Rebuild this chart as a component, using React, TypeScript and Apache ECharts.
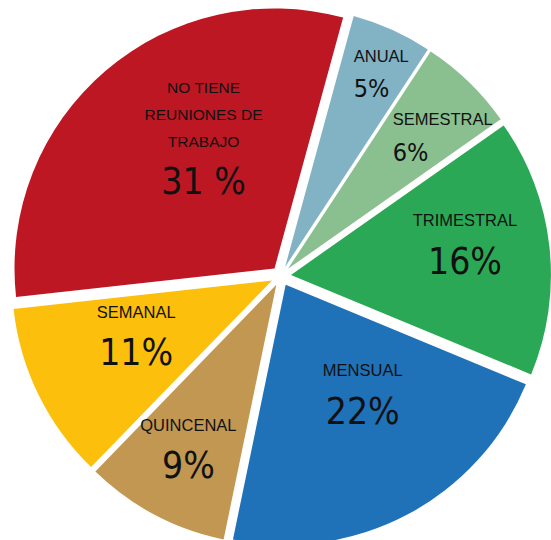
import React, { useEffect, useRef } from "react";
import * as echarts from "echarts";

const categories = [
  "ANUAL",
  "SEMESTRAL",
  "TRIMESTRAL",
  "MENSUAL",
  "QUINCENAL",
  "SEMANAL",
  "NO TIENE REUNIONES DE TRABAJO",
];
const values = [5, 6, 16, 22, 9, 11, 31];
const nameLines = [
  ["ANUAL"],
  ["SEMESTRAL"],
  ["TRIMESTRAL"],
  ["MENSUAL"],
  ["QUINCENAL"],
  ["SEMANAL"],
  ["NO TIENE", "REUNIONES DE", "TRABAJO"],
];
const valueLabels = ["5%", "6%", "16%", "22%", "9%", "11%", "31 %"];

// styling / layout (not data)
const colors = ["#82B3C4", "#8ABF8F", "#2AA855", "#1F71B8", "#C19751", "#FBBF0C", "#BC1723"];
const labelKind = ["s", "s", "b", "b", "b", "b", "r"];
const labelRadius = [0.862, 0.812, 0.709, 0.531, 0.73, 0.586, 0.586];
const labelAngleShift = [1.9, 4.9, -4.6, -7.5, 0.8, 4.9, 10.6];

const CX = 281;
const CY = 276;
const R = 260;
const START_CLOCK = 15.3; // degrees clockwise from 12 o'clock

const NAME_FONT = "'Liberation Sans', Arial, sans-serif";
const NUM_FONT = "'Liberation Sans Narrow', 'DejaVu Sans Condensed', 'Roboto Condensed', sans-serif";

const rich = {
  ns: { fontFamily: NAME_FONT, fontSize: 16.5, lineHeight: 33, align: "left", color: "#111" },
  vs: { fontFamily: NUM_FONT, fontSize: 25, lineHeight: 33, align: "left", color: "#111" },
  nb: { fontFamily: NAME_FONT, fontSize: 16.5, lineHeight: 41, align: "center", color: "#111" },
  vb: { fontFamily: NUM_FONT, fontSize: 37, lineHeight: 41, align: "center", color: "#111" },
  nr: { fontFamily: NAME_FONT, fontSize: 15.5, lineHeight: 27, align: "center", color: "#111" },
  vr: { fontFamily: NUM_FONT, fontSize: 37, lineHeight: 53, align: "center", color: "#111" },
};

export default function App() {
  const ref = useRef<HTMLDivElement>(null);
  useEffect(() => {
    if (!ref.current) return;
    const chart = echarts.init(ref.current, null, { renderer: "svg" });

    const mainSeries = {
      type: "pie",
      center: [CX, CY],
      radius: [0, R],
      startAngle: 90 - START_CLOCK,
      clockwise: true,
      selectedMode: "multiple",
      selectedOffset: 10,
      silent: true,
      z: 1,
      data: categories.map((name, i) => ({
        name,
        value: values[i],
        selected: true,
        itemStyle: { color: colors[i] },
      })),
      itemStyle: { borderWidth: 0 },
      select: { itemStyle: { borderWidth: 0 } },
      labelLine: { show: false },
      label: { show: false },
    };

    // one transparent ring per label: its "inside" label sits at the ring's middle radius
    const labelSeries = categories.map((_, li) => {
      const rr = labelRadius[li] * R;
      return {
        type: "pie",
        center: [CX, CY],
        radius: [rr - 1, rr + 1],
        startAngle: 90 - START_CLOCK - labelAngleShift[li],
        clockwise: true,
        silent: true,
        z: 5,
        minShowLabelAngle: 0,
        avoidLabelOverlap: false,
        labelLine: { show: false },
        itemStyle: { color: "rgba(0,0,0,0)", borderWidth: 0 },
        data: categories.map((name, i) => ({
          name,
          value: values[i],
          label: { show: i === li },
        })),
        label: {
          position: "inside",
          color: "#111111",
          rotate: 0,
          formatter: (p: any) => {
            const i = p.dataIndex;
            const k = labelKind[i];
            const names = nameLines[i].map((t) => `{n${k}|${t}}`).join("\n");
            return `${names}\n{v${k}|${valueLabels[i]}}`;
          },
          rich,
        },
      };
    });

    chart.setOption({
      animation: false,
      backgroundColor: "#ffffff",
      series: [mainSeries, ...labelSeries],
    });
    return () => chart.dispose();
  }, []);
  return (
    <div
      ref={ref}
      style={{ position: "absolute", left: 0, top: 0, width: 551, height: 540 }}
    />
  );
}
